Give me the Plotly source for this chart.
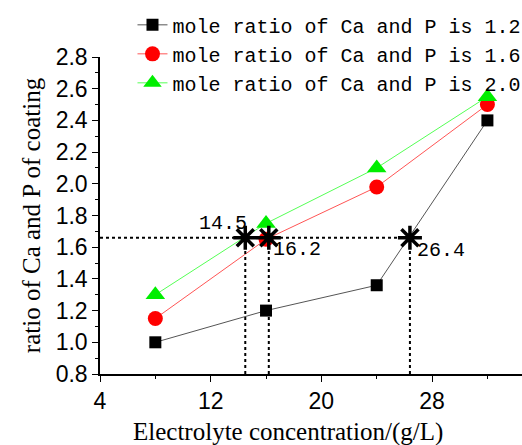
import plotly.graph_objects as go

conc = [8, 16, 24, 32]
ratio_12 = [1.00, 1.20, 1.36, 2.40]
ratio_16 = [1.15, 1.65, 1.98, 2.50]
ratio_20 = [1.30, 1.75, 2.10, 2.55]
series_names = ["mole ratio of Ca and P is 1.2",
                "mole ratio of Ca and P is 1.6",
                "mole ratio of Ca and P is 2.0"]
cross_x = [14.5, 16.2, 26.4]
cross_labels = ["14.5", "16.2", "26.4"]
target_y = 1.66
x_title = "Electrolyte concentration/(g/L)"
y_title = "ratio of Ca and P of coating"

fig = go.Figure()
fig.add_trace(go.Scatter(x=conc, y=ratio_12, mode="lines+markers", name=series_names[0],
                         line=dict(color="#555555", width=1),
                         marker=dict(symbol="square", size=12, color="black")))
fig.add_trace(go.Scatter(x=conc, y=ratio_16, mode="lines+markers", name=series_names[1],
                         line=dict(color="#ff5555", width=1),
                         marker=dict(symbol="circle", size=15, color="red")))
fig.add_trace(go.Scatter(x=conc, y=ratio_20, mode="lines+markers", name=series_names[2],
                         line=dict(color="#55ff55", width=1),
                         marker=dict(symbol="triangle-up", size=17, color="#00ee00")))

# dotted guide lines
fig.add_trace(go.Scatter(x=[4, max(cross_x)], y=[target_y, target_y], mode="lines",
                         line=dict(color="black", width=2, dash="dot"), showlegend=False,
                         hoverinfo="skip"))
for cx in cross_x:
    fig.add_trace(go.Scatter(x=[cx, cx], y=[0.8, target_y], mode="lines",
                             line=dict(color="black", width=2, dash="dot"), showlegend=False,
                             hoverinfo="skip"))
fig.add_trace(go.Scatter(x=cross_x, y=[target_y] * len(cross_x), mode="markers",
                         marker=dict(symbol="asterisk-open", size=20, color="black",
                                     line=dict(color="black", width=3.5)),
                         showlegend=False))

label_offsets = [(-22, 14), (28, -12), (31, -13)]
for cx, lab, (ax, ay) in zip(cross_x, cross_labels, label_offsets):
    fig.add_annotation(x=cx, y=target_y, text=lab, showarrow=False,
                       xshift=ax, yshift=ay,
                       font=dict(family="Liberation Mono", size=20, color="black"))

fig.add_annotation(xref="paper", yref="paper", x=0.4455, y=-0.183, text=x_title,
                   showarrow=False, xanchor="center", yanchor="middle",
                   font=dict(family="Liberation Serif", size=25, color="black"))

fig.update_layout(
    width=522, height=445,
    margin=dict(l=100, r=0, t=57, b=71, autoexpand=False),
    plot_bgcolor="white", paper_bgcolor="white",
    showlegend=True,
    legend=dict(x=0.077, y=1.163, xanchor="left", yanchor="top",
                bgcolor="rgba(0,0,0,0)",
                font=dict(family="Liberation Mono", size=20, color="black"),
                tracegroupgap=0, itemwidth=30),
    xaxis=dict(range=[4, 34.5], tickvals=[4, 12, 20, 28], showline=True, linecolor="black",
               linewidth=1.5, ticks="outside", ticklen=6, tickcolor="black", zeroline=False,
               showgrid=False, automargin=False,
               minor=dict(tickvals=[8, 16, 24, 32], ticks="outside", ticklen=3, tickcolor="black"),
               tickfont=dict(family="Liberation Sans", size=23, color="black")),
    yaxis=dict(range=[0.8, 2.8], dtick=0.2, tickformat=".1f", showline=True, linecolor="black",
               linewidth=1.5, ticks="outside", ticklen=6, tickcolor="black", zeroline=False,
               showgrid=False, automargin=False,
               minor=dict(dtick=0.1, ticks="outside", ticklen=3, tickcolor="black"),
               tickfont=dict(family="Liberation Sans", size=23, color="black"),
               title=dict(text=y_title, standoff=8,
                          font=dict(family="Liberation Serif", size=25, color="black"))),
)

fig.write_html("out.html")
